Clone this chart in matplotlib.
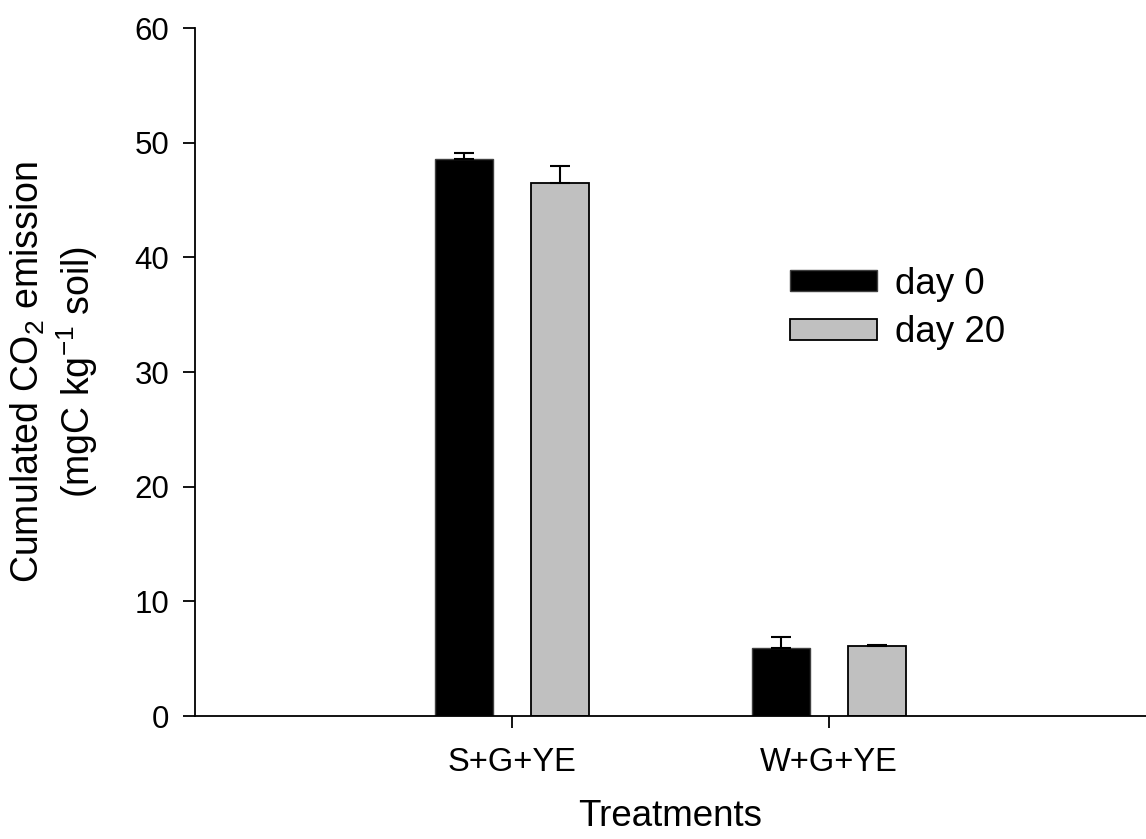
import numpy as np
import matplotlib.pyplot as plt

plt.rcParams['font.family'] = ['Liberation Sans', 'DejaVu Sans']
plt.rcParams['mathtext.fontset'] = 'custom'
plt.rcParams['mathtext.rm'] = 'Liberation Sans'
plt.rcParams['mathtext.it'] = 'Liberation Sans'

# data
treatments = ['S+G+YE', 'W+G+YE']
day0 = [48.6, 5.9]
day0_err = [0.5, 1.0]
day20 = [46.5, 6.1]
day20_err = [1.5, 0.1]

fig = plt.figure(figsize=(11.46, 8.39), dpi=100)
ax = fig.add_axes([0.170, 0.1466, 0.830, 0.820])

x = np.arange(1, len(treatments) + 1)
w = 0.183
off = 0.151

ax.bar(x - off, day0, w, color='black', edgecolor='#404040', linewidth=1.0,
       yerr=[np.zeros(len(day0)), day0_err], capsize=7.5,
       error_kw=dict(elinewidth=1.5, capthick=1.5, ecolor='black'), label='day 0')
ax.bar(x + off, day20, w, color='#c0c0c0', edgecolor='black', linewidth=1.3,
       yerr=[np.zeros(len(day20)), day20_err], capsize=7.5,
       error_kw=dict(elinewidth=1.5, capthick=1.5, ecolor='black'), label='day 20')

ax.set_xlim(0, 3)
ax.set_ylim(0, 60)
ax.set_xticks(x)
ax.set_xticklabels(treatments)
ax.set_yticks(np.arange(0, 61, 10))

ax.spines['top'].set_visible(False)
ax.spines['right'].set_visible(False)
for s in ['left', 'bottom']:
    ax.spines[s].set_linewidth(1.3)
ax.tick_params(direction='out', length=8.5, width=1.3, labelsize=22.5)
ax.tick_params(axis='x', labelsize=23.5, pad=14)
ax.tick_params(axis='y', pad=10)

ax.set_xlabel('Treatments', fontsize=26.5, labelpad=15)
ax.set_ylabel('Cumulated CO$_2$ emission\n(mgC kg$^{-1}$ soil)', fontsize=27,
              labelpad=25, linespacing=1.2)

ax.legend(loc='upper left', bbox_to_anchor=(0.6894, 0.682),
          bbox_transform=fig.transFigure, frameon=False, borderpad=0,
          borderaxespad=0, fontsize=26.5, handlelength=2.36, handleheight=0.52,
          handletextpad=0.5, labelspacing=0.37)

fig.savefig('out.png', dpi=100)
